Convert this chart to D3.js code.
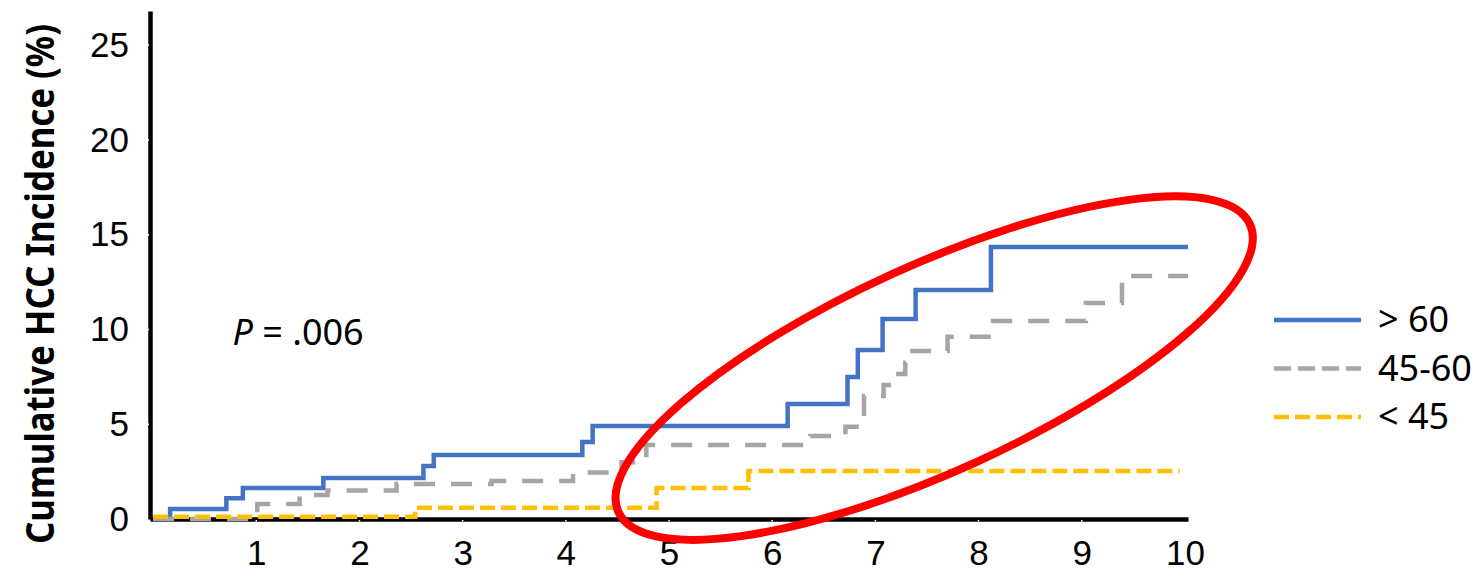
<!DOCTYPE html>
<head>
    <meta charset='utf-8'>
    <style>
        body {
            margin: 0;
            background: #fff;
            font-family: 'Noto Sans', Arial, sans-serif;
        }

        .tick text {
            font-size: 35px;
            fill: #000;
        }
    </style>
</head>

<body>
<div id='vis'></div>
<script src='https://d3js.org/d3.v7.min.js'></script>
<script>
  const W = 1477, H = 574

  // years of follow-up and cumulative incidence (%) for each age group
  const seriesNames = ['> 60', '45-60', '< 45']
  const colorsList = ['#4472C4', '#A5A5A5', '#FFC000']

  const over60Years = [0, 0.165, 0.71, 0.87, 1.65, 2.62, 2.72, 4.16, 4.26, 6.15, 6.73, 6.83, 7.07, 7.39, 8.12, 10.03]
  const over60Pct   = [0, 0.53, 1.1, 1.63, 2.16, 2.8, 3.37, 4.06, 4.9, 6.07, 7.49, 8.91, 10.55, 12.08, 14.35, 14.35]

  const mid45to60Years = [0, 1.01, 1.42, 1.69, 2.36, 3.28, 4.07, 4.54, 4.78, 6.37, 6.71, 6.89, 7.08, 7.17, 7.29, 7.33, 7.70, 8.14, 9.04, 9.39, 10.03]
  const mid45to60Pct   = [0, 0.79, 1.27, 1.5, 1.85, 2.0, 2.45, 3.0, 3.9, 4.38, 4.87, 6.49, 7.07, 7.65, 8.24, 8.86, 9.62, 10.44, 11.4, 12.82, 12.82]

  const under45Years = [0, 2.54, 4.88, 5.77, 9.95]
  const under45Pct   = [0.12, 0.6, 1.63, 2.53, 2.53]

  const xTicks = [1, 2, 3, 4, 5, 6, 7, 8, 9, 10]
  const yTicks = [0, 5, 10, 15, 20, 25]

  const pValueText = '.006'

  const series = [
    {name: seriesNames[0], color: colorsList[0], dash: null, legendDash: null,
      pts: over60Years.map((t, i) => [t, over60Pct[i]])},
    {name: seriesNames[1], color: colorsList[1], dash: '21,16', legendDash: '17,7',
      pts: mid45to60Years.map((t, i) => [t, mid45to60Pct[i]])},
    {name: seriesNames[2], color: colorsList[2], dash: '15,6', legendDash: '15,6',
      pts: under45Years.map((t, i) => [t, under45Pct[i]])}
  ]

  // scales
  const x = d3.scaleLinear()
    .domain([-0.03, 10.03])
    .range([150, 1188])

  const y = d3.scaleLinear()
    .domain([0, 26.8])
    .range([519, 11])

  const svg = d3.select('#vis')
    .append('svg')
    .attr('width', W)
    .attr('height', H)
    .style('font-family', "'Noto Sans', Arial, sans-serif")

  svg.append('rect').attr('width', W).attr('height', H).attr('fill', '#fff')

  // axes
  const xAxis = svg.append('g')
    .attr('transform', `translate(0, ${y(0)})`)
    .call(d3.axisBottom(x).tickValues(xTicks).tickSize(0).tickPadding(21).tickSizeOuter(0))
  xAxis.select('.domain').attr('stroke', '#000').attr('stroke-width', 4.5)

  const yAxis = svg.append('g')
    .attr('transform', `translate(${x(-0.03)}, 0)`)
    .call(d3.axisLeft(y).tickValues(yTicks).tickSize(0).tickPadding(21).tickSizeOuter(0))
  yAxis.select('.domain').attr('stroke', '#000').attr('stroke-width', 4.5)

  // little white notches where the tick marks are
  svg.append('g').selectAll('line')
    .data(yTicks.slice(1))
    .join('line')
    .attr('x1', x(-0.03) - 2.5).attr('x2', x(-0.03) - 1)
    .attr('y1', d => y(d)).attr('y2', d => y(d))
    .attr('stroke', '#fff').attr('stroke-width', 1.5)

  svg.append('g').selectAll('line')
    .data(xTicks.slice(0, -1))
    .join('line')
    .attr('x1', d => x(d)).attr('x2', d => x(d))
    .attr('y1', y(0) + 1).attr('y2', y(0) + 2.5)
    .attr('stroke', '#fff').attr('stroke-width', 1.5)

  // y axis title
  svg.append('text')
    .attr('transform', `translate(54, 284) rotate(-90)`)
    .attr('text-anchor', 'middle')
    .attr('font-size', 39)
    .attr('font-weight', 'bold')
    .attr('textLength', 520)
    .attr('lengthAdjust', 'spacingAndGlyphs')
    .text('Cumulative HCC Incidence (%)')

  // step curves
  const line = d3.line()
    .x(d => x(d[0]))
    .y(d => y(d[1]))
    .curve(d3.curveStepAfter)

  svg.append('g').selectAll('path')
    .data(series)
    .join('path')
    .attr('d', d => line(d.pts))
    .attr('fill', 'none')
    .attr('stroke', d => d.color)
    .attr('stroke-width', 4.5)
    .attr('stroke-dasharray', d => d.dash)

  // P value
  const pText = svg.append('text')
    .attr('x', x(0.77))
    .attr('y', y(9.2))
    .attr('font-size', 36)
  pText.append('tspan').attr('font-style', 'italic').text('P')
  pText.append('tspan').text(' = ' + pValueText)

  // legend
  const legend = svg.append('g')
    .attr('transform', 'translate(1274, 320)')

  const item = legend.selectAll('g')
    .data(series)
    .join('g')
    .attr('transform', (d, i) => `translate(0, ${i * 48.5})`)

  item.append('line')
    .attr('x1', 0).attr('x2', 87)
    .attr('stroke', d => d.color)
    .attr('stroke-width', 4.5)
    .attr('stroke-dasharray', d => d.legendDash)

  item.append('text')
    .attr('x', 104)
    .attr('y', 12)
    .attr('font-size', 36)
    .text(d => d.name)

  // red highlight ellipse (centre in data units)
  const ring = {cx: 7.57, cy: 7.96, rx: 347, ry: 103, angle: -24.5}
  svg.append('ellipse')
    .attr('transform', `translate(${x(ring.cx)}, ${y(ring.cy)}) rotate(${ring.angle})`)
    .attr('rx', ring.rx)
    .attr('ry', ring.ry)
    .attr('fill', 'none')
    .attr('stroke', '#FF0000')
    .attr('stroke-width', 8)
</script>
</body>
